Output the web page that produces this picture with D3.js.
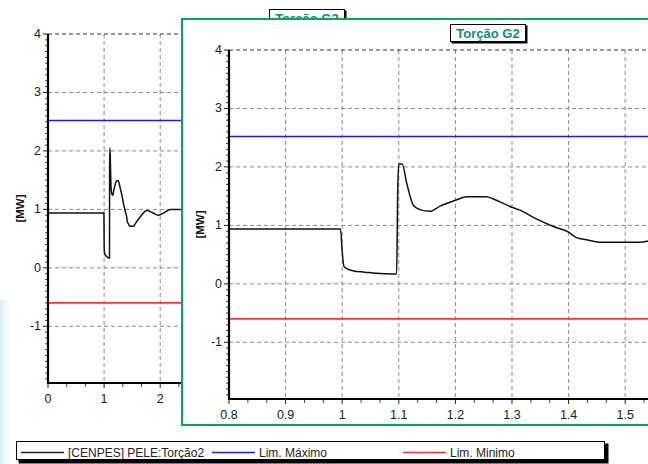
<!DOCTYPE html>
<html>
<head>
<meta charset="utf-8">
<script src="https://cdn.jsdelivr.net/npm/d3@7/dist/d3.min.js"></script>
<style>
  html, body { margin: 0; padding: 0; background: #fff; }
  svg { display: block; font-family: "Liberation Sans", Arial, sans-serif; }
</style>
</head>
<body>
<div id="chart"></div>
<script>
// Series (time in s, torque in MW)
const timeS = [0, 0.997, 1.0, 1.003, 1.01, 1.02, 1.04, 1.06, 1.09, 1.096, 1.097, 1.098, 1.1, 1.106,
  1.114, 1.126, 1.137, 1.155, 1.173, 1.2, 1.22, 1.255, 1.267, 1.3, 1.314, 1.343, 1.373, 1.4,
  1.414, 1.432, 1.458, 1.49, 1.526, 1.545, 1.58, 1.65, 1.76, 1.85, 1.97, 2.08, 2.18, 2.3, 2.4];
const torque = [0.94, 0.94, 0.55, 0.3, 0.25, 0.22, 0.2, 0.18, 0.17, 0.17, 0.63, 1.57, 2.05, 2.05,
  1.72, 1.34, 1.27, 1.24, 1.33, 1.43, 1.49, 1.49, 1.45, 1.31, 1.26, 1.11, 0.98, 0.885,
  0.79, 0.755, 0.71, 0.71, 0.71, 0.74, 0.79, 0.88, 0.98, 0.95, 0.9, 0.95, 1.0, 1.0, 1.0];
const limMax = 2.52;
const limMin = -0.6;

// Ticks
const yTicks = [-1, 0, 1, 2, 3, 4];
const fullXTicks = [0, 1, 2, 3, 4, 5];
const zoomXTicks = [0.8, 0.9, 1.0, 1.1, 1.2, 1.3, 1.4, 1.5];

// Texts
const chartTitle = "Torção G2";
const yLabel = "[MW]";
const legendNames = ["[CENPES] PELE:Torção2", "Lim. Máximo", "Lim. Minimo"];
const legendColors = ["#222", "#1a1aff", "#ff3030"];

const W = 648, H = 464;
const points = timeS.map((t, i) => ({t: t, v: torque[i]}));

const svg = d3.select("#chart").append("svg")
  .attr("width", W).attr("height", H);

// faint blue glow at the left edge of the desktop
const defs = svg.append("defs");
const grad = defs.append("linearGradient").attr("id", "glow")
  .attr("x1", 0).attr("x2", 1).attr("y1", 0).attr("y2", 0);
grad.append("stop").attr("offset", 0).attr("stop-color", "#d6ecf7");
grad.append("stop").attr("offset", 1).attr("stop-color", "#fff").attr("stop-opacity", 0);
svg.append("rect").attr("x", 0).attr("y", 300).attr("width", 14).attr("height", 164)
  .attr("fill", "url(#glow)");

/**
* Draw one chart window: grid, axes, limits, series, title and y label
* @param id (String): id used for the clip path
* @param o (Object): plot box and domains
*/
function drawChart(id, o) {
  const g = svg.append("g");
  const x = d3.scaleLinear().domain(o.xDomain).range([o.left, o.right]);
  const y = d3.scaleLinear().domain([-1.97, 4]).range([o.bottom, o.top]);

  defs.append("clipPath").attr("id", id)
    .append("rect").attr("x", o.left).attr("y", o.top - 1)
    .attr("width", o.right - o.left).attr("height", o.bottom - o.top + 2);

  // dashed grid
  g.selectAll(".gx").data(o.xTicks.slice(1)).enter().append("line")
    .attr("x1", d => x(d)).attr("x2", d => x(d))
    .attr("y1", o.top).attr("y2", o.bottom)
    .attr("stroke", "#8a8a8a").attr("stroke-dasharray", "4,3");
  g.selectAll(".gy").data(yTicks.filter(d => d < 4)).enter().append("line")
    .attr("x1", o.left).attr("x2", o.right)
    .attr("y1", d => y(d)).attr("y2", d => y(d))
    .attr("stroke", "#8a8a8a").attr("stroke-dasharray", "4,3");
  g.append("line")
    .attr("x1", o.left).attr("x2", o.right).attr("y1", o.top).attr("y2", o.top)
    .attr("stroke", "#333").attr("stroke-dasharray", "4,3");

  // limits
  const plot = g.append("g").attr("clip-path", "url(#" + id + ")");
  [limMax, limMin].forEach((v, i) => {
    plot.append("line")
      .attr("x1", o.left).attr("x2", o.right).attr("y1", y(v)).attr("y2", y(v))
      .attr("stroke", legendColors[i + 1]).attr("stroke-width", 1.6);
  });

  // series
  plot.append("path").datum(points)
    .attr("fill", "none").attr("stroke", "#111").attr("stroke-width", 1.5)
    .attr("d", d3.line().x(d => x(d.t)).y(d => y(d.v)).curve(d3.curveMonotoneX));

  // y axis: major and minor ticks on the left
  const yMinor = d3.range(-19, 41).map(d => d / 10).filter(d => Math.abs(d - Math.round(d)) > 1e-6);
  g.selectAll(".ym").data(yMinor).enter().append("line")
    .attr("x1", o.left - 3).attr("x2", o.left).attr("y1", d => y(d)).attr("y2", d => y(d))
    .attr("stroke", "#444");
  g.selectAll(".yM").data(yTicks).enter().append("line")
    .attr("x1", o.left - 5).attr("x2", o.left).attr("y1", d => y(d)).attr("y2", d => y(d))
    .attr("stroke", "#222");
  g.selectAll(".yl").data(yTicks).enter().append("text")
    .attr("x", o.left - 7).attr("y", d => y(d) + 4)
    .attr("text-anchor", "end").attr("font-size", 12.5).attr("fill", "#1a1a1a")
    .text(d => d);
  g.append("line")
    .attr("x1", o.left).attr("x2", o.left).attr("y1", o.top).attr("y2", o.bottom + 1)
    .attr("stroke", "#000").attr("stroke-width", 2.2);

  // x axis: major and minor ticks below
  const step = o.xTicks[1] - o.xTicks[0];
  const xMinor = [];
  o.xTicks.forEach(t => { xMinor.push(t + step / 3, t + 2 * step / 3); });
  g.selectAll(".xm").data(xMinor).enter().append("line")
    .attr("x1", d => x(d)).attr("x2", d => x(d)).attr("y1", o.bottom).attr("y2", o.bottom + 4)
    .attr("stroke", "#444");
  g.selectAll(".xM").data(o.xTicks).enter().append("line")
    .attr("x1", d => x(d)).attr("x2", d => x(d)).attr("y1", o.bottom).attr("y2", o.bottom + 5)
    .attr("stroke", "#222");
  g.selectAll(".xl").data(o.xTicks).enter().append("text")
    .attr("x", d => x(d)).attr("y", o.bottom + 20)
    .attr("text-anchor", "middle").attr("font-size", 12.5).attr("fill", "#1a1a1a")
    .text(d => d3.format(o.xFmt)(d));
  g.append("line")
    .attr("x1", o.left - 1).attr("x2", o.right).attr("y1", o.bottom).attr("y2", o.bottom)
    .attr("stroke", "#000").attr("stroke-width", 2.2);

  // y label
  g.append("text")
    .attr("transform", "translate(" + o.labelX + "," + (o.top + o.bottom) / 2 + ") rotate(-90)")
    .attr("text-anchor", "middle").attr("font-size", 11.5).attr("font-weight", "bold")
    .attr("fill", "#111").text(yLabel);

  // title box
  const tb = g.append("g").attr("transform", "translate(" + o.titleX + "," + o.titleY + ")");
  tb.append("rect").attr("x", 1.5).attr("y", 1.5).attr("width", 76).attr("height", 18).attr("fill", "#000");
  tb.append("rect").attr("x", 0.5).attr("y", 0.5).attr("width", 75).attr("height", 17)
    .attr("fill", "#fff").attr("stroke", "#000");
  tb.append("text").attr("x", 38).attr("y", 13.5).attr("text-anchor", "middle")
    .attr("font-size", 13).attr("font-weight", "bold").attr("fill", "#0a8a8a")
    .text(chartTitle);
  return g;
}

// background window (full time span)
drawChart("clipFull", {
  left: 48, right: 48 + 5.3 * 56.1, top: 34, bottom: 383,
  xDomain: [0, 5.3], xTicks: fullXTicks, xFmt: "d",
  labelX: 24, titleX: 269, titleY: 9
});

// green foreground window
svg.append("rect").attr("x", 182).attr("y", 19).attr("width", 520).attr("height", 406)
  .attr("fill", "#fff").attr("stroke", "#00aa50").attr("stroke-width", 2);

drawChart("clipZoom", {
  left: 229, right: 229 + 8 * 56.6, top: 50, bottom: 399,
  xDomain: [0.8, 1.6], xTicks: zoomXTicks, xFmt: "",
  labelX: 204, titleX: 450, titleY: 24
});

// legend
const lg = svg.append("g");
lg.append("rect").attr("x", 18.5).attr("y", 443.5).attr("width", 590).attr("height", 20).attr("fill", "#000");
lg.append("rect").attr("x", 16.5).attr("y", 441.5).attr("width", 588).attr("height", 18)
  .attr("fill", "#fff").attr("stroke", "#000");
const legX = [21, 212, 403];
legendNames.forEach((name, i) => {
  lg.append("line").attr("x1", legX[i]).attr("x2", legX[i] + 43)
    .attr("y1", 452.5).attr("y2", 452.5)
    .attr("stroke", legendColors[i]).attr("stroke-width", 1.3);
  lg.append("text").attr("x", legX[i] + 47).attr("y", 457)
    .attr("font-size", 12).attr("fill", "#222").text(name);
});
</script>
</body>
</html>
